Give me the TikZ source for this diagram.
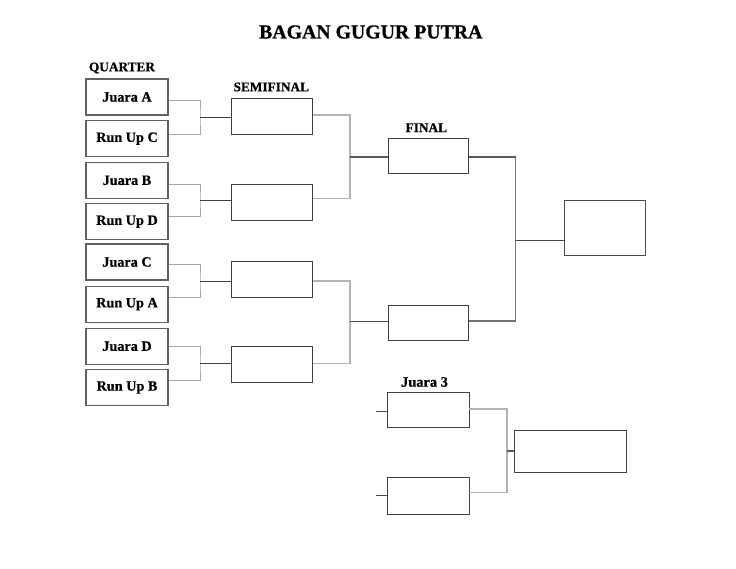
\documentclass[tikz,border=0pt]{standalone}
\usepackage{fontspec}
\setmainfont{Liberation Serif}[BoldFeatures={FakeBold=0.8}]
\begin{document}
\begin{tikzpicture}[x=1pt,y=-1pt,
  qbox/.style={draw=black!62,line width=1.2pt,minimum width=82pt,minimum height=36pt,inner sep=0pt,
    font=\fontsize{14.2}{16}\selectfont\bfseries,text=black},
  sbox/.style={draw=black!75,line width=1pt,minimum width=81pt,minimum height=36pt,inner sep=0pt},
  fbox/.style={draw=black!75,line width=0.9pt,minimum width=80pt,minimum height=35pt,inner sep=0pt},
  head/.style={font=\fontsize{13.3}{15}\selectfont\bfseries,text=black,inner sep=0pt},
  arm/.style={draw=black!35,line width=0.9pt},
  armb/.style={draw=black!30,line width=1.6pt},
  mid/.style={draw=black!75,line width=1pt},
  midb/.style={draw=black!65,line width=2pt},
  thin/.style={draw=black!70,line width=0.8pt}]
\useasboundingbox (0,0) rectangle (736,568);
% title and headings
\node[font=\fontsize{19.8}{22}\selectfont\bfseries,inner sep=0pt] (title) at (370.8,32) {BAGAN GUGUR PUTRA};
\node[head] (hq) at (122,68) {QUARTER};
\node[head] (hs) at (271.3,87) {SEMIFINAL};
\node[head] (hf) at (426.3,127.7) {FINAL};
\node[head,font=\fontsize{14.4}{16}\selectfont\bfseries] (hj) at (424.5,382) {Juara 3};
% quarter boxes
\node[qbox] (q1) at (127,97)    {Juara A};
\node[qbox] (q2) at (127,138.7) {Run Up C};
\node[qbox] (q3) at (127,180.3) {Juara B};
\node[qbox] (q4) at (127,221.7) {Run Up D};
\node[qbox] (q5) at (127,262)   {Juara C};
\node[qbox] (q6) at (127,304.2) {Run Up A};
\node[qbox] (q7) at (127,346.2) {Juara D};
\node[qbox] (q8) at (127,387.5) {Run Up B};
% semifinal boxes
\node[sbox] (s1) at (272.2,116.2) {};
\node[sbox] (s2) at (272.2,202)   {};
\node[sbox] (s3) at (272.2,279.8) {};
\node[sbox] (s4) at (272.2,364.7) {};
% final boxes
\node[fbox] (f1) at (428.3,155.8) {};
\node[fbox] (f2) at (428.3,323)   {};
% champion
\node[draw=black!70,line width=1pt,minimum width=81.4pt,minimum height=54.3pt,inner sep=0pt] (ch) at (605,227.9) {};
% third place
\node[fbox,minimum width=81.3pt,minimum height=35.4pt] (t1) at (428.3,410) {};
\node[fbox,minimum width=81.3pt,minimum height=36.6pt] (t2) at (428.3,496) {};
\node[draw=black!75,line width=0.9pt,minimum width=112.7pt,minimum height=41.7pt,inner sep=0pt] (t3) at (570.3,451.2) {};
% quarter -> semifinal brackets
\coordinate (k1) at (200,117.3);
\coordinate (k2) at (200,200);
\coordinate (k3) at (200,281.7);
\coordinate (k4) at (200,363.3);
\draw[arm] ([yshift=-3.5pt]q1.east) -| (k1) |- ([yshift=4.7pt]q2.east);
\draw[arm] ([yshift=-4pt]q3.east) -| (k2) |- ([yshift=5pt]q4.east);
\draw[arm] ([yshift=-2.3pt]q5.east) -| (k3) |- ([yshift=6.7pt]q6.east);
\draw[arm] ([yshift=-0.7pt]q7.east) -| (k4) |- ([yshift=7.5pt]q8.east);
\draw[mid] (k1) -- (s1.west |- k1);
\draw[mid] (k2) -- (s2.west |- k2);
\draw[mid] (k3) -- (s3.west |- k3);
\draw[mid] (k4) -- (s4.west |- k4);
% semifinal -> final brackets
\coordinate (m1) at (350,157.3);
\coordinate (m2) at (350,321.7);
\draw[armb] ([yshift=1.2pt]s1.east) -| (m1) |- ([yshift=3.7pt]s2.east);
\draw[armb] ([yshift=-1.2pt]s3.east) -| (m2) |- ([yshift=1.4pt]s4.east);
\draw[midb] (m1) -- (f1.west |- m1);
\draw[thin] (m2) -- (f2.west |- m2);
% final -> champion
\coordinate (c1) at (515.7,240);
\draw[draw=black!55,line width=1.3pt] ([yshift=-1.5pt]f1.east) -| (c1) |- ([yshift=2pt]f2.east);
\draw[midb] ([yshift=-1.5pt]f1.east) -- ([yshift=-1.5pt]f1.east -| c1);
\draw[thin] (c1) -- (ch.west |- c1);
% third place
\coordinate (e1) at (375.7,411.7);
\coordinate (e2) at (375.7,495);
\draw[thin] (e1) -- (t1.west |- e1);
\draw[thin] (e2) -- (t2.west |- e2);
\coordinate (c3) at (506.7,451);
\draw[armb] ([yshift=1pt]t1.east) -| (c3) |- ([yshift=3.7pt]t2.east);
\draw[midb] (c3) -- (t3.west |- c3);
\end{tikzpicture}
\end{document}
